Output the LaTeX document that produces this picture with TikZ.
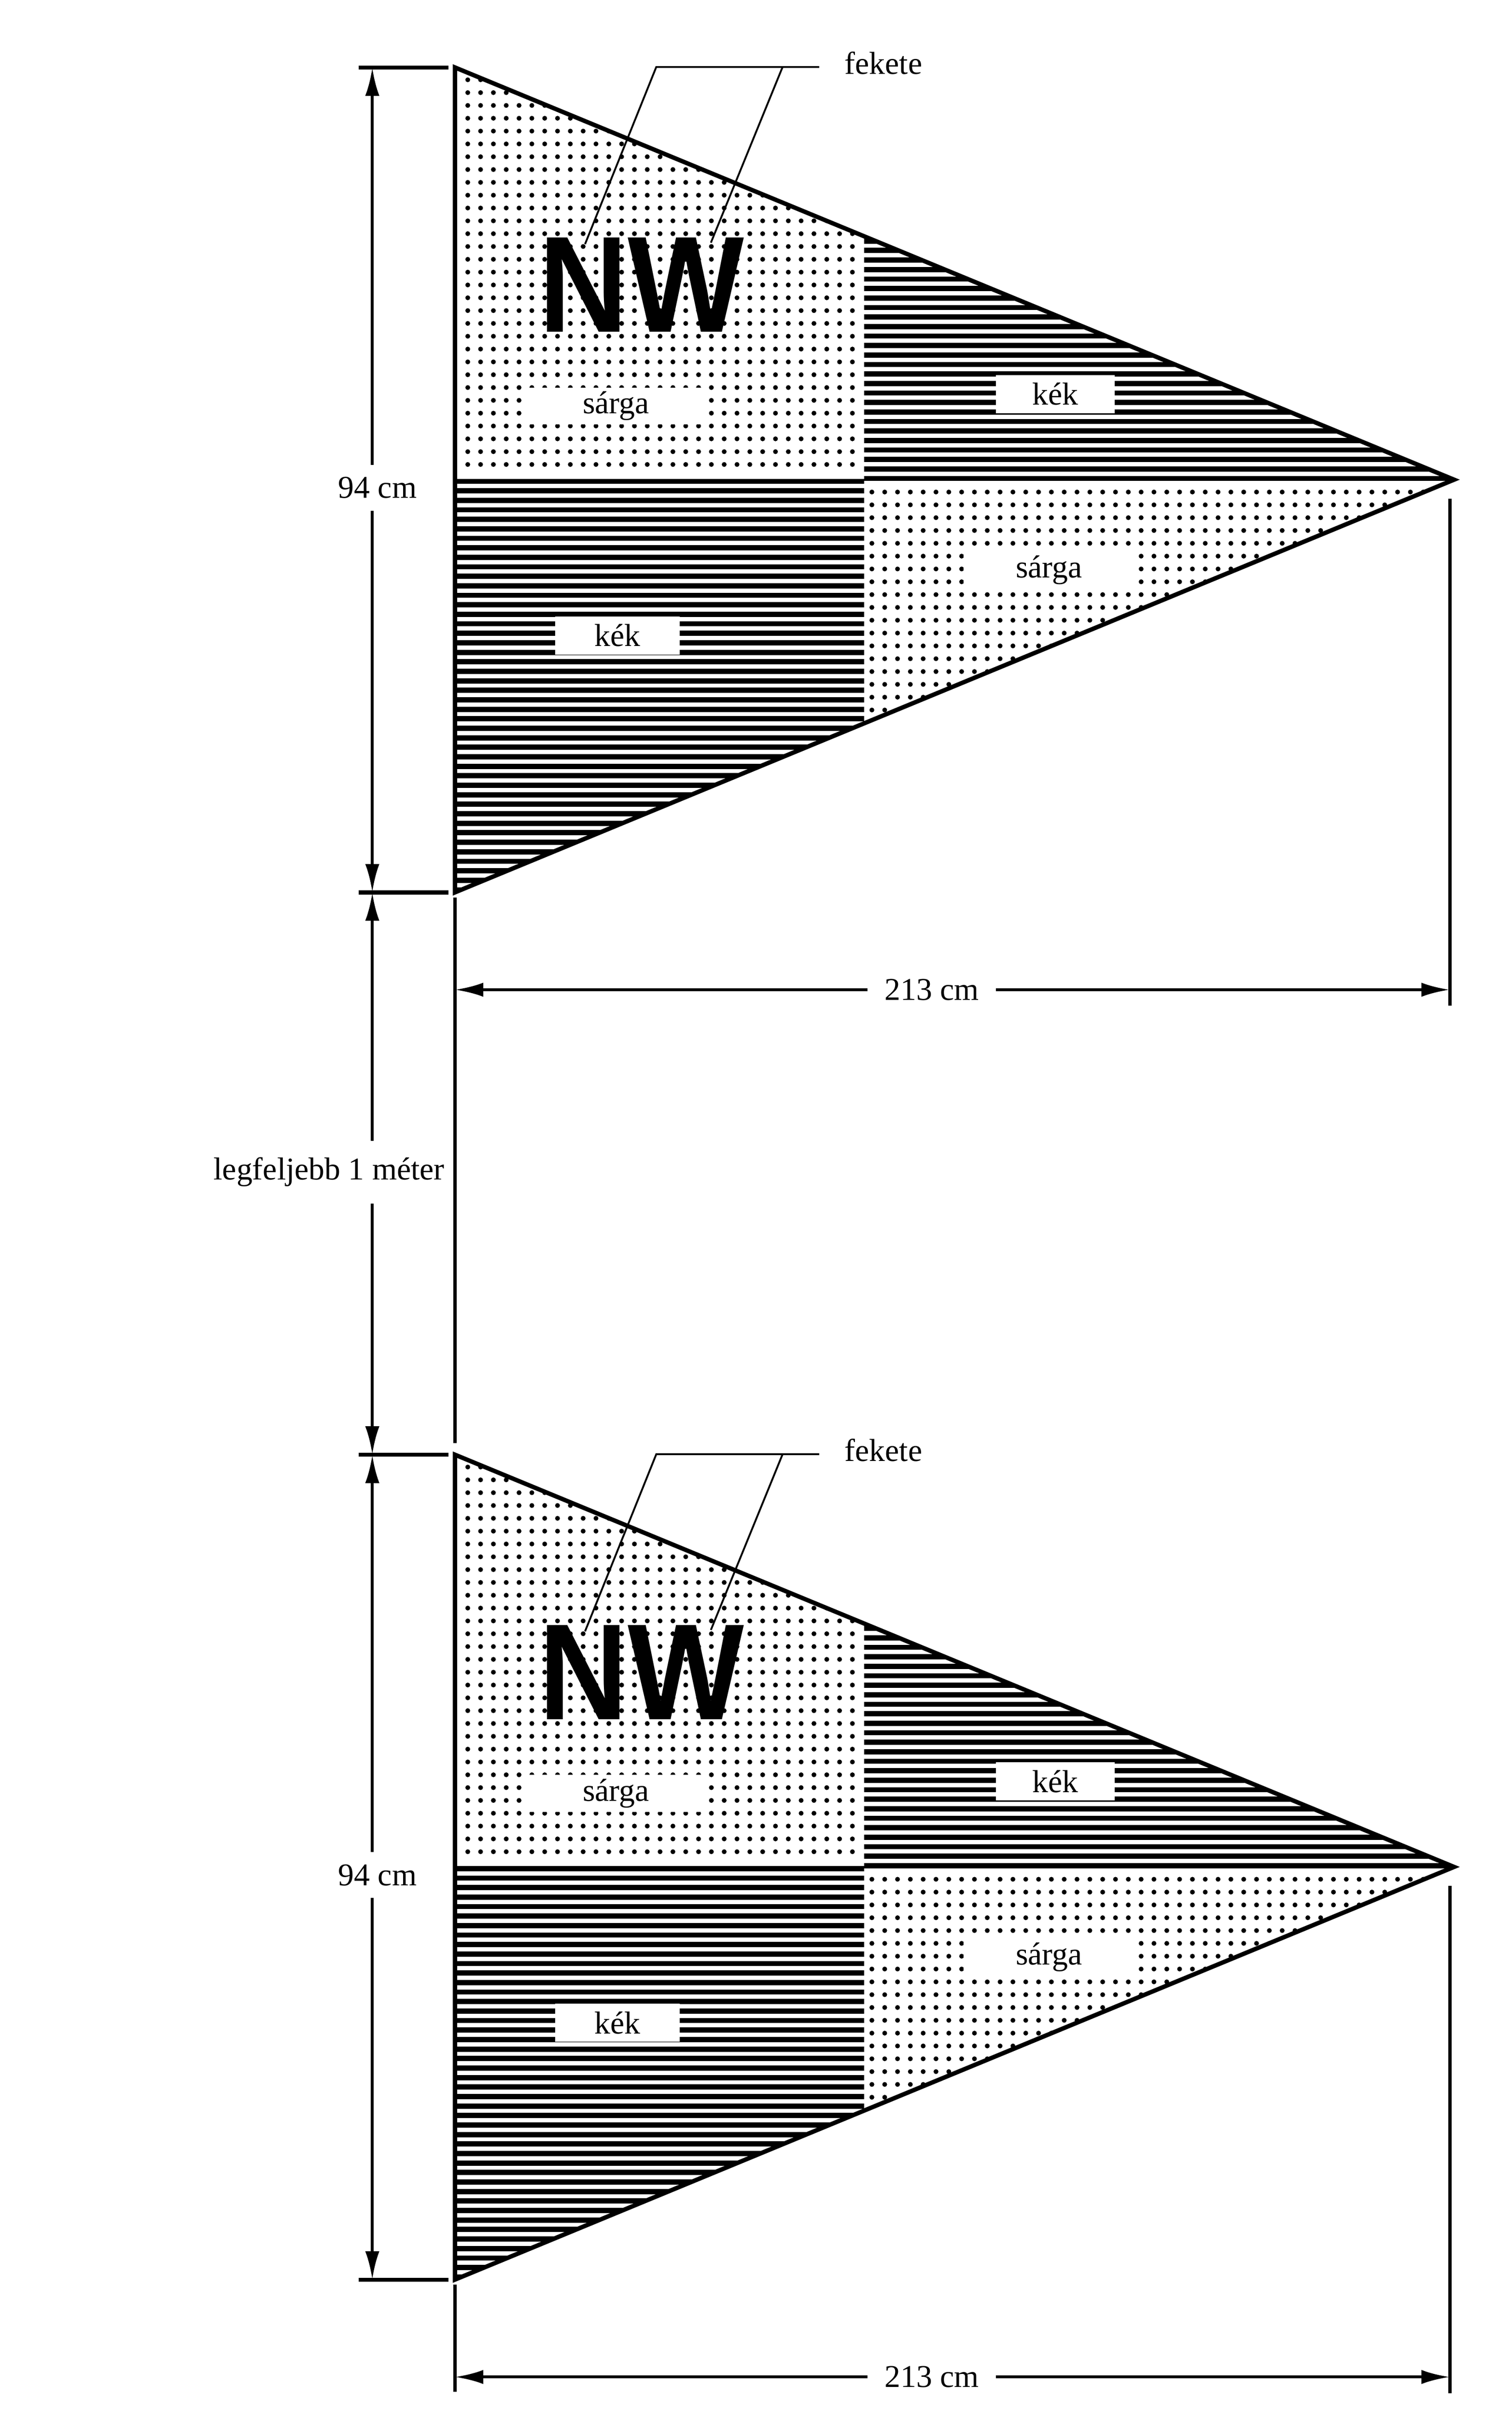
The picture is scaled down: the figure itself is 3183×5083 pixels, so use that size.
\documentclass[tikz,border=0pt]{standalone}
\usepackage{fontspec}
\setmainfont{Liberation Serif}
\newfontfamily\nwfont{Liberation Sans}
\usetikzlibrary{arrows.meta}

\begin{document}
\begin{tikzpicture}[x=0.01cm, y=-0.01cm,
  flagedge/.style={line width=2.6pt, line join=miter},
  dimline/.style={line width=1.8pt, -{Latex[length=17pt, width=8.5pt]}},
  endtick/.style={line width=2.4pt},
  pole/.style={line width=2pt},
  leader/.style={line width=1.1pt},
  tag/.style={fill=white, inner sep=0pt, font=\fontsize{19}{22}\selectfont},
  dimtext/.style={inner xsep=0pt, font=\fontsize{19}{22}\selectfont}]
\useasboundingbox (0,0) rectangle (3183,5083);

\foreach \fl/\off in {A/0, B/2921}{
\begin{scope}[shift={(0,\off)}]
\coordinate (\fl-tl) at (958,142);
\coordinate (\fl-tip) at (3062,1010);
\coordinate (\fl-bl) at (958,1879);
% fields
\begin{scope}
\clip (\fl-tl) -- (\fl-tip) -- (\fl-bl) -- cycle;
\foreach \y in {142,162,...,1002} \fill (1820,\y) rectangle (3062,\y+11);
\foreach \y in {1008,1028,...,1870} \fill (958,\y) rectangle (1820,\y+11);
\foreach \x in {985,1012,...,1810} \foreach \y in {168,195,...,1000}
  \fill (\x,\y) circle[radius=1.45pt];
\foreach \x in {1836,1863,...,3050} \foreach \y in {1036,1063,...,1870}
  \fill (\x,\y) circle[radius=1.45pt];
\end{scope}
\draw[flagedge] (\fl-tl) -- (\fl-tip) -- (\fl-bl) -- cycle;

\node[tag, minimum width=3.7cm, minimum height=0.78cm] (\fl-s1) at (1297,855) {sárga};
\node[tag, minimum width=2.5cm, minimum height=0.8cm] (\fl-k1) at (2222,830) {kék};
\node[tag, minimum width=3.6cm, minimum height=0.8cm] (\fl-s2) at (2209,1200) {sárga};
\node[tag, minimum width=2.62cm, minimum height=0.8cm] (\fl-k2) at (1300,1338) {kék};
\node[inner sep=0pt, font=\nwfont\bfseries\fontsize{82}{82}\selectfont] (\fl-nw) at (1351,600)
  {\scalebox{0.9}[1]{NW}};

% fekete
\node[anchor=base west, inner xsep=0.53cm, inner ysep=0pt,
  font=\fontsize{19}{22}\selectfont] (\fl-fek) at (1725,156) {fekete};
\coordinate (\fl-kn) at (1382,141);
\coordinate (\fl-kw) at (1648,141);
\coordinate (\fl-pn) at (1232,514);
\coordinate (\fl-pw) at (1497,511);
\draw[leader] (\fl-fek.west |- \fl-kn) -- (\fl-kn) -- (\fl-pn);
\draw[leader] (\fl-kw) -- (\fl-pw);

% 94 cm
\coordinate (\fl-ht) at (784,142);
\coordinate (\fl-hb) at (784,1879);
\draw[endtick] (755,142) -- (944,142);
\draw[endtick] (755,1879) -- (944,1879);
\node[dimtext, inner ysep=7.2pt] (\fl-h) at (795,1027) {94 cm};
\draw[dimline] (\fl-h.north -| \fl-ht) -- (\fl-ht);
\draw[dimline] (\fl-h.south -| \fl-hb) -- (\fl-hb);

% 213 cm
\coordinate (\fl-wl) at (958,2084);
\coordinate (\fl-wr) at (3053,2084);
\draw[pole] (3053,1050) -- (3053,2118);
\node[dimtext, inner xsep=10pt] (\fl-w) at (1962,2084) {213 cm};
\draw[dimline] (\fl-w) -- (\fl-wl);
\draw[dimline] (\fl-w) -- (\fl-wr);
\end{scope}
}

\draw[pole, shorten <=3pt, shorten >=7pt] (A-bl) -- (B-tl);
\draw[pole, shorten <=3pt] (B-bl) -- ++(0,236);

% legfeljebb 1 meter
\node[dimtext, inner ysep=9.8pt] (gap) at (693,2468) {legfeljebb 1 méter};
\draw[dimline] (gap.north -| A-hb) -- (A-hb);
\draw[dimline] (gap.south -| B-ht) -- (B-ht);
\end{tikzpicture}
\end{document}
